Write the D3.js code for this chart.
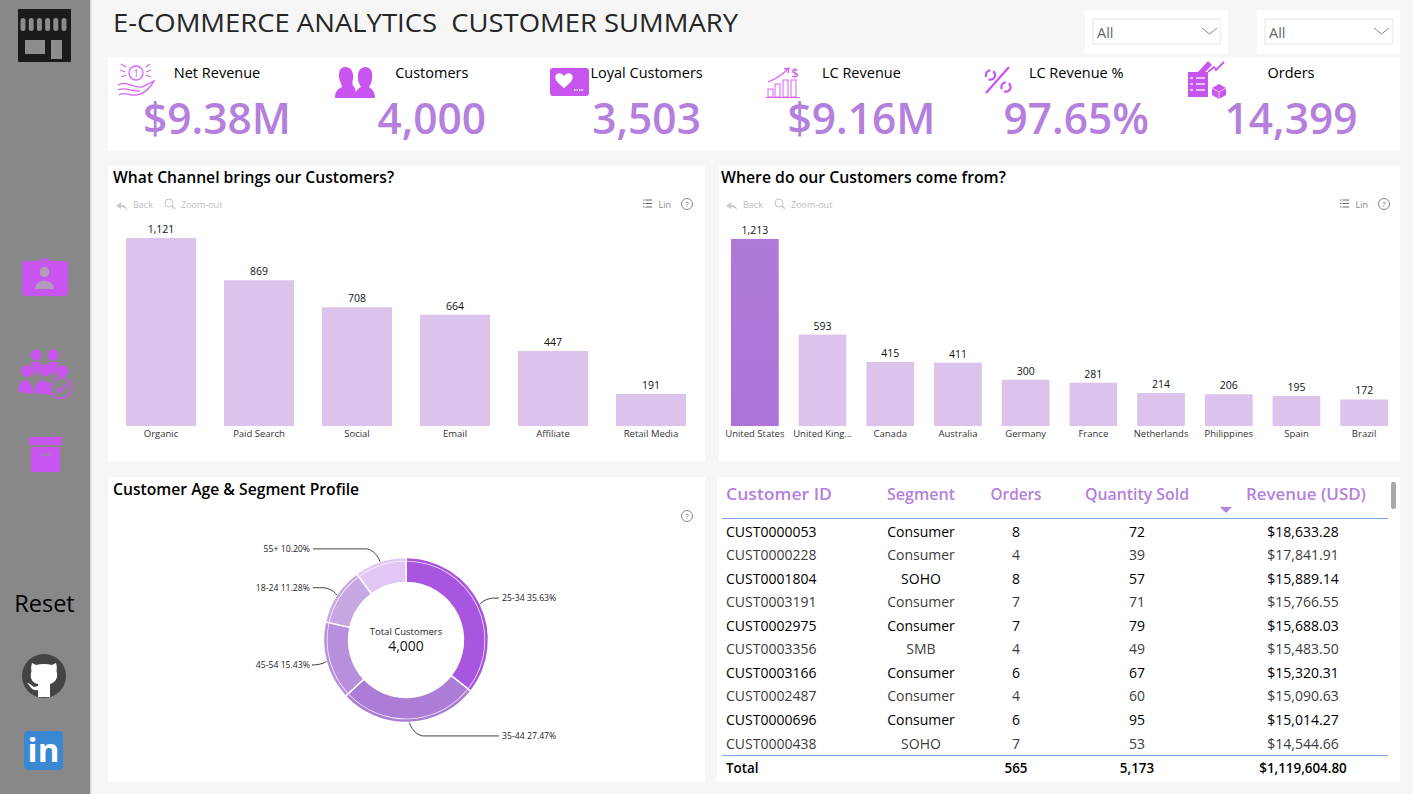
<!DOCTYPE html>
<html>
<head>
<meta charset="utf-8">
<title>E-Commerce Analytics Customer Summary</title>
<script src="https://cdn.jsdelivr.net/npm/d3@7"></script>
<style>
  html, body { margin: 0; padding: 0; background: #f6f6f6; overflow: hidden; }
  svg { display: block; }
  text { font-family: "Open Sans", "Noto Sans", sans-serif; }
</style>
</head>
<body>
<svg id="board" width="1413" height="794"></svg>
<script>
// KPI strip
const kpiLabels = ["Net Revenue", "Customers", "Loyal Customers", "LC Revenue", "LC Revenue %", "Orders"];
const kpiValues = ["$9.38M", "4,000", "3,503", "$9.16M", "97.65%", "14,399"];

// Customers by acquisition channel
const channelNames = ["Organic", "Paid Search", "Social", "Email", "Affiliate", "Retail Media"];
const channelCustomers = [1121, 869, 708, 664, 447, 191];

// Customers by country
const countryNames = ["United States", "United King...", "Canada", "Australia", "Germany", "France", "Netherlands", "Philippines", "Spain", "Brazil"];
const countryCustomers = [1213, 593, 415, 411, 300, 281, 214, 206, 195, 172];

// Age bands
const ageBands = ["25-34", "35-44", "45-54", "18-24", "55+"];
const agePercents = [35.63, 27.47, 15.43, 11.28, 10.20];
const ageColors = ["#a855e0", "#ab7dd6", "#b78fdd", "#c8a8e2", "#e2c6f5"];

// Top customers table
const tableHeaders = ["Customer ID", "Segment", "Orders", "Quantity Sold", "Revenue (USD)"];
const customerIds = ["CUST0000053", "CUST0000228", "CUST0001804", "CUST0003191", "CUST0002975", "CUST0003356", "CUST0003166", "CUST0002487", "CUST0000696", "CUST0000438"];
const customerSegments = ["Consumer", "Consumer", "SOHO", "Consumer", "Consumer", "SMB", "Consumer", "Consumer", "Consumer", "SOHO"];
const customerOrders = [8, 4, 8, 7, 7, 4, 6, 4, 6, 7];
const customerQuantity = [72, 39, 57, 71, 79, 49, 67, 60, 95, 53];
const customerRevenue = ["$18,633.28", "$17,841.91", "$15,889.14", "$15,766.55", "$15,688.03", "$15,483.50", "$15,320.31", "$15,090.63", "$15,014.27", "$14,544.66"];
const tableTotals = ["Total", "", "565", "5,173", "$1,119,604.80"];

const PURPLE = "#b57fdd", BAR = "#dcc3ec", ICON = "#c855f0", MUTED = "#bcbcbc";
const svg = d3.select("#board");

function label(parent, x, y, str, size, fill, anchor, weight) {
  return parent.append("text").attr("x", x).attr("y", y).text(str)
    .attr("font-size", size).attr("fill", fill)
    .attr("text-anchor", anchor || "start").attr("font-weight", weight || 400);
}
function panel(x, y, w, h) {
  svg.append("rect").attr("x", x).attr("y", y).attr("width", w).attr("height", h).attr("fill", "#fff");
}

// ---- Side rail ----
svg.append("rect").attr("width", 90).attr("height", 794).attr("fill", "#888888");
svg.append("rect").attr("x", 90).attr("width", 1.5).attr("height", 794).attr("fill", "#d8d8d8");

const store = svg.append("g").attr("transform", "translate(18,9)");
store.append("rect").attr("x", 0).attr("y", 0).attr("width", 53).attr("height", 53).attr("rx", 1).attr("fill", "#1b1b1b");
d3.range(6).forEach(i => store.append("rect").attr("x", 2.5 + i * 8.2).attr("y", 9).attr("width", 5).attr("height", 13).attr("rx", 2.5).attr("fill", "#8c8c8c"));
store.append("rect").attr("x", 7).attr("y", 31).attr("width", 20).attr("height", 14).attr("fill", "#8c8c8c");
store.append("rect").attr("x", 33).attr("y", 31).attr("width", 11).attr("height", 19).attr("fill", "#8c8c8c");

const badge = svg.append("g").attr("transform", "translate(22,258)");
badge.append("circle").attr("cx", 23).attr("cy", 5).attr("r", 5).attr("fill", ICON);
badge.append("rect").attr("y", 3).attr("width", 46).attr("height", 35).attr("rx", 3).attr("fill", ICON);
badge.append("circle").attr("cx", 22.5).attr("cy", 14).attr("r", 5).attr("fill", "#b49bbb");
badge.append("path").attr("d", "M13,31 C13,20 32,20 32,31 Z").attr("fill", "#b49bbb");

const team = svg.append("g").attr("fill", ICON);
[[36, 355, 5.5], [53, 355, 5.5], [27, 371, 6], [45, 370, 6], [62, 371, 6]].forEach(c =>
  team.append("circle").attr("cx", c[0]).attr("cy", c[1]).attr("r", c[2]));
team.append("path").attr("d", "M18,392 C18,376 33,376 33,394 Z");
team.append("path").attr("d", "M34,393 C34,376 52,376 52,395 Z");
team.append("path").attr("d", "M31,362 L41,362 L36,378 Z M48,362 L58,362 L53,378 Z");
team.append("circle").attr("cx", 61).attr("cy", 388).attr("r", 10.5).attr("fill", "#888888").attr("stroke", ICON).attr("stroke-width", 1.5);
team.append("path").attr("d", "M56,388 L60,392 L67,384").attr("fill", "none").attr("stroke", ICON).attr("stroke-width", 2);

const box = svg.append("g").attr("transform", "translate(29,437)");
box.append("rect").attr("width", 33).attr("height", 8).attr("rx", 1).attr("fill", ICON);
box.append("rect").attr("x", 2).attr("y", 10).attr("width", 29).attr("height", 25).attr("rx", 1).attr("fill", ICON);
box.append("rect").attr("x", 12).attr("y", 16).attr("width", 9).attr("height", 3).attr("fill", "#a57ab8");

label(svg, 44.5, 612, "Reset", 23.5, "#000", "middle");

const hub = svg.append("g").attr("transform", "translate(44,676)");
hub.append("circle").attr("r", 22).attr("fill", "#444");
hub.append("path").attr("fill", "#fff").attr("d", "M-12,-13 L-8,-11 C-3,-12.5 3,-12.5 8,-11 L12,-13 C13,-10 13,-7 12.5,-5 C15,3 10,7 6,8 L6,21 L-6,21 L-6,14 C-11,15 -13,12 -15,9 L-17,7 C-14,7 -12,10 -10,11 L-6,10 L-6,8 C-11,7 -15,3 -12.5,-5 C-13,-7 -13,-10 -12,-13 Z");

svg.append("rect").attr("x", 24).attr("y", 731).attr("width", 39).attr("height", 39).attr("rx", 4).attr("fill", "#3a88d4");
label(svg, 43.5, 762, "in", 33, "#fff", "middle", 700);

// ---- Header ----
label(svg, 113, 32, "E-COMMERCE ANALYTICS  CUSTOMER SUMMARY", 25.5, "#252525", "start", 500)
  .style("white-space", "pre").attr("textLength", 625).attr("lengthAdjust", "spacingAndGlyphs");

[1085, 1257].forEach(x => {
  panel(x, 10, 143, 44);
  svg.append("rect").attr("x", x + 8).attr("y", 19).attr("width", 127.5).attr("height", 25).attr("fill", "#fff").attr("stroke", "#eeeeee").attr("stroke-width", 1.5);
  label(svg, x + 12, 38, "All", 14.5, "#666");
  svg.append("path").attr("d", `M${x + 117},28 L${x + 124.5},34 L${x + 132},28`).attr("fill", "none").attr("stroke", "#777").attr("stroke-width", 0.9);
});

// ---- KPI strip ----
panel(108, 57, 1292, 94);
const kpiCenters = d3.scaleLinear().domain([0, 5]).range([217, 1291]);
kpiLabels.forEach((t, i) => {
  label(svg, kpiCenters(i), 78, t, 14.5, "#000", "middle");
  label(svg, kpiCenters(i), 134, kpiValues[i], 42.5, PURPLE, "middle", 600);
});

const coin = svg.append("g").attr("fill", "none").attr("stroke", "#d565f2").attr("stroke-width", 1.3);
coin.append("circle").attr("cx", 136).attr("cy", 73).attr("r", 7);
coin.append("path").attr("d", "M120,70 L125,72 M121,64 L126,67 M121,77 L126,75 M151,70 L146,72 M150,64 L146,67 M151,77 L146,75");
coin.append("path").attr("d", "M118,85 C126,80 132,88 142,87 L154,81 C150,89 142,96 132,95 C126,94 124,92 119,95 M118,90 C125,86 130,92 140,91");
label(svg, 136, 77, "1", 10, "#d565f2", "middle");

const pair = svg.append("g").attr("fill", ICON);
pair.append("path").attr("d", "M344,67 C351,66 354,72 353,79 C352,83 352,85 355,88 L357,98 L335,98 C335,91 338,89 342,87 C341,82 339,80 339,76 C339,71 340,68 344,67 Z");
pair.append("path").attr("d", "M365,67 C371,67 373,72 372,78 C372,83 370,85 369,87 C372,89 375,92 375,98 L354,98 C355,92 358,88 361,87 C358,82 358,80 358,76 C358,71 360,68 365,67 Z");

svg.append("rect").attr("x", 550).attr("y", 68).attr("width", 39).attr("height", 28).attr("rx", 3).attr("fill", ICON);
svg.append("path").attr("fill", "#fff").attr("d", "M564,88 C556,82 554,78 556,75 C558,72 562,73 564,76 C566,73 570,72 572,75 C574,78 572,82 564,88 Z");
svg.append("path").attr("d", "M574,90 H584").attr("stroke", "#fff").attr("stroke-width", 1.5).attr("stroke-dasharray", "1.5 1");

const growth = svg.append("g").attr("fill", "none").attr("stroke", "#d565f2").attr("stroke-width", 1);
growth.append("path").attr("d", "M766,97.5 H800");
[[768, 89], [775, 84], [783, 80], [791, 80]].forEach(b =>
  growth.append("rect").attr("x", b[0]).attr("y", b[1]).attr("width", 5).attr("height", 97 - b[1]));
growth.append("path").attr("d", "M768,82 C776,79 782,75 788,69 M784,69 L789,68 L788,73").attr("stroke-width", 1.3);
label(svg, 795, 78, "$", 13, "#d565f2", "middle", 600);

const pct = svg.append("g").attr("fill", "none").attr("stroke", ICON).attr("stroke-width", 2.3);
pct.append("path").attr("d", "M986,93 L1009,67");
pct.append("circle").attr("cx", 990.5).attr("cy", 75).attr("r", 4.6).attr("stroke-dasharray", "9 3");
pct.append("circle").attr("cx", 1006).attr("cy", 87).attr("r", 4.6).attr("stroke-dasharray", "9 3");

const clip = svg.append("g").attr("fill", ICON);
clip.append("path").attr("d", "M1188,72 H1198 L1208,61 L1212,65 L1205,72 H1208 V97 H1188 Z");
clip.append("path").attr("d", "M1208,72 L1214,67 L1216,70 L1221,65 L1224,62").attr("fill", "none").attr("stroke", ICON).attr("stroke-width", 1.8);
clip.append("path").attr("d", "M1219,84 L1226,88 V95 L1219,99 L1212,95 V88 Z");
clip.append("path").attr("d", "M1212,88 L1219,92 L1226,88 M1219,92 V99").attr("fill", "none").attr("stroke", "#f3d8fb").attr("stroke-width", 0.9);
clip.append("path").attr("d", "M1196,78 H1205 M1196,84 H1205 M1196,90 H1205 M1190,78 h3 M1190,84 h3 M1190,90 h3").attr("stroke", "#f6e3fc").attr("stroke-width", 1.3);

// ---- Bar panels ----
function toolbar(origin, right) {
  const y = 208;
  svg.append("path").attr("d", `M${origin + 9},${y + 3} C${origin + 9},${y - 2} ${origin + 6},${y - 3} ${origin + 3},${y - 3} V${y - 6} L${origin - 2},${y - 2} L${origin + 3},${y + 1} V${y - 1} C${origin + 6},${y - 1} ${origin + 8},${y} ${origin + 9},${y + 3} Z`).attr("fill", "#c9c9c9");
  label(svg, origin + 15, y, "Back", 9, MUTED);
  svg.append("circle").attr("cx", origin + 51).attr("cy", y - 5).attr("r", 4).attr("fill", "none").attr("stroke", "#c4c4c4");
  svg.append("path").attr("d", `M${origin + 54},${y - 2} L${origin + 57},${y + 1}`).attr("stroke", "#c4c4c4").attr("stroke-width", 1.3);
  label(svg, origin + 63, y, "Zoom-out", 9, MUTED);
  [0, 3.5, 7].forEach(dy => svg.append("path").attr("d", `M${right - 44},${y - 8 + dy} h1.5 m1,0 h6.5`).attr("stroke", "#666").attr("stroke-width", 1));
  label(svg, right - 28.5, y, "Lin", 9, "#888");
  helpMark(right, y - 4);
}
function helpMark(cx, cy) {
  svg.append("circle").attr("cx", cx).attr("cy", cy).attr("r", 5.5).attr("fill", "none").attr("stroke", "#777").attr("stroke-width", 0.9);
  label(svg, cx, cy + 3, "?", 8, "#777", "middle");
}

function barChart(opts) {
  const x = d3.scaleBand().domain(opts.names).range(opts.xRange).paddingInner(opts.pad).paddingOuter(opts.pad / 2);
  const y = d3.scaleLinear().domain([0, d3.max(opts.values)]).range([426, opts.top]);
  const g = svg.append("g");
  g.selectAll("rect").data(opts.values).join("rect")
    .attr("x", (d, i) => x(opts.names[i]))
    .attr("y", d => y(d))
    .attr("width", x.bandwidth())
    .attr("height", d => y(0) - y(d))
    .attr("fill", (d, i) => i === opts.highlight ? "url(#leadBar)" : BAR);
  g.selectAll("text.val").data(opts.values).join("text").attr("class", "val")
    .attr("x", (d, i) => x(opts.names[i]) + x.bandwidth() / 2)
    .attr("y", d => y(d) - 5)
    .attr("text-anchor", "middle").attr("font-size", 10.5).attr("fill", "#111")
    .text(d => d3.format(",")(d));
  const axis = g.append("g").attr("transform", "translate(0,426)").call(d3.axisBottom(x).tickSize(0).tickPadding(4));
  axis.select(".domain").remove();
  axis.selectAll("text").attr("font-size", 9.5).attr("fill", "#333").attr("font-family", '"Open Sans", sans-serif');
}

const defs = svg.append("defs");
const lead = defs.append("linearGradient").attr("id", "leadBar").attr("x1", 0).attr("x2", 0).attr("y1", 0).attr("y2", 1);
lead.append("stop").attr("offset", 0).attr("stop-color", "#b07ad9");
lead.append("stop").attr("offset", 1).attr("stop-color", "#ad74d8");

panel(108, 166, 597, 295);
label(svg, 113, 183, "What Channel brings our Customers?", 15.7, "#000", "start", 600);
toolbar(118, 687);
barChart({ names: channelNames, values: channelCustomers, xRange: [112, 700], pad: 0.286, top: 238, highlight: -1 });

panel(719, 166, 681, 295);
label(svg, 721, 183, "Where do our Customers come from?", 15.8, "#000", "start", 600);
toolbar(728, 1384);
barChart({ names: countryNames, values: countryCustomers, xRange: [721, 1398], pad: 0.295, top: 239, highlight: 0 });

// ---- Donut panel ----
panel(108, 477, 597, 305);
label(svg, 113, 495, "Customer Age & Segment Profile", 15.7, "#000", "start", 600);
helpMark(687, 516);

const donut = svg.append("g").attr("transform", "translate(406,640)");
const pie = d3.pie().sort(null)(agePercents);
const wedge = d3.arc().innerRadius(57.5).outerRadius(82.5);
const innerBand = d3.arc().innerRadius(78.5).outerRadius(79.3).padAngle(0.02);
const edge = d3.arc().innerRadius(82.5).outerRadius(82.5);
const anchorRing = d3.arc().innerRadius(96).outerRadius(96);

donut.selectAll("path.wedge").data(pie).join("path").attr("class", "wedge")
  .attr("d", wedge).attr("fill", (d, i) => ageColors[i]).attr("stroke", "#fff").attr("stroke-width", 1.4);
donut.selectAll("path.band").data(pie).join("path").attr("class", "band")
  .attr("d", innerBand).attr("fill", "#fff").attr("opacity", 0.85);

pie.forEach((d, i) => {
  const [ex, ey] = edge.centroid(d);
  const ly = anchorRing.centroid(d)[1];
  const right = (d.startAngle + d.endAngle) / 2 < Math.PI;
  const tx = right ? 93 : -93;
  const side = right ? 1 : -1;
  const p = d3.path();
  p.moveTo(ex, ey);
  p.bezierCurveTo(ex + side * 3, ey + (ly - ey) * 0.7, ex + side * 10, ly, Math.abs(ex) * side + side * 14, ly);
  p.lineTo(tx, ly);
  donut.append("path").attr("d", p.toString()).attr("fill", "none").attr("stroke", "#111").attr("stroke-width", 0.8);
  label(donut, right ? 96 : -96, ly + 3, `${ageBands[i]} ${agePercents[i].toFixed(2)}%`, 8.7, "#222", right ? "start" : "end");
});
label(donut, 0, -5, "Total Customers", 9.5, "#222", "middle");
label(donut, 0, 10.5, "4,000", 14, "#111", "middle");

// ---- Customer table ----
panel(717, 477, 683, 305);
const colX = [726, 921, 1016, 1137, 1303];
const headerCenters = [726, 921, 1016, 1137, 1306];
const headerWidths = [106, 68, 51, 104, 120];
tableHeaders.forEach((t, i) => label(svg, headerCenters[i], 500, t, 15.5, PURPLE, i ? "middle" : "start", 600)
  .attr("textLength", headerWidths[i]).attr("lengthAdjust", "spacingAndGlyphs"));
svg.append("path").attr("d", "M1220,507 H1232 L1226,513 Z").attr("fill", PURPLE);
svg.append("rect").attr("x", 1391).attr("y", 482).attr("width", 5).attr("height", 27).attr("rx", 2).attr("fill", "#a8a8a8");
svg.append("path").attr("d", "M722,518.5 H1388").attr("stroke", "#7ba7e2");
svg.append("path").attr("d", "M722,755.5 H1388").attr("stroke", "#7ba7e2");

const rowY = d3.scaleLinear().domain([0, 9]).range([536.6, 748.6]);
customerIds.forEach((id, r) => {
  const fill = r % 2 ? "#3c3c3c" : "#000";
  const cells = [id, customerSegments[r], customerOrders[r], customerQuantity[r], customerRevenue[r]];
  cells.forEach((c, i) => label(svg, colX[i], rowY(r), c, 14, fill, i ? "middle" : "start", r % 2 ? 400 : 500));
});
tableTotals.forEach((t, i) => label(svg, colX[i], 773, t, 13.4, "#000", i ? "middle" : "start", 600));
</script>
</body>
</html>
